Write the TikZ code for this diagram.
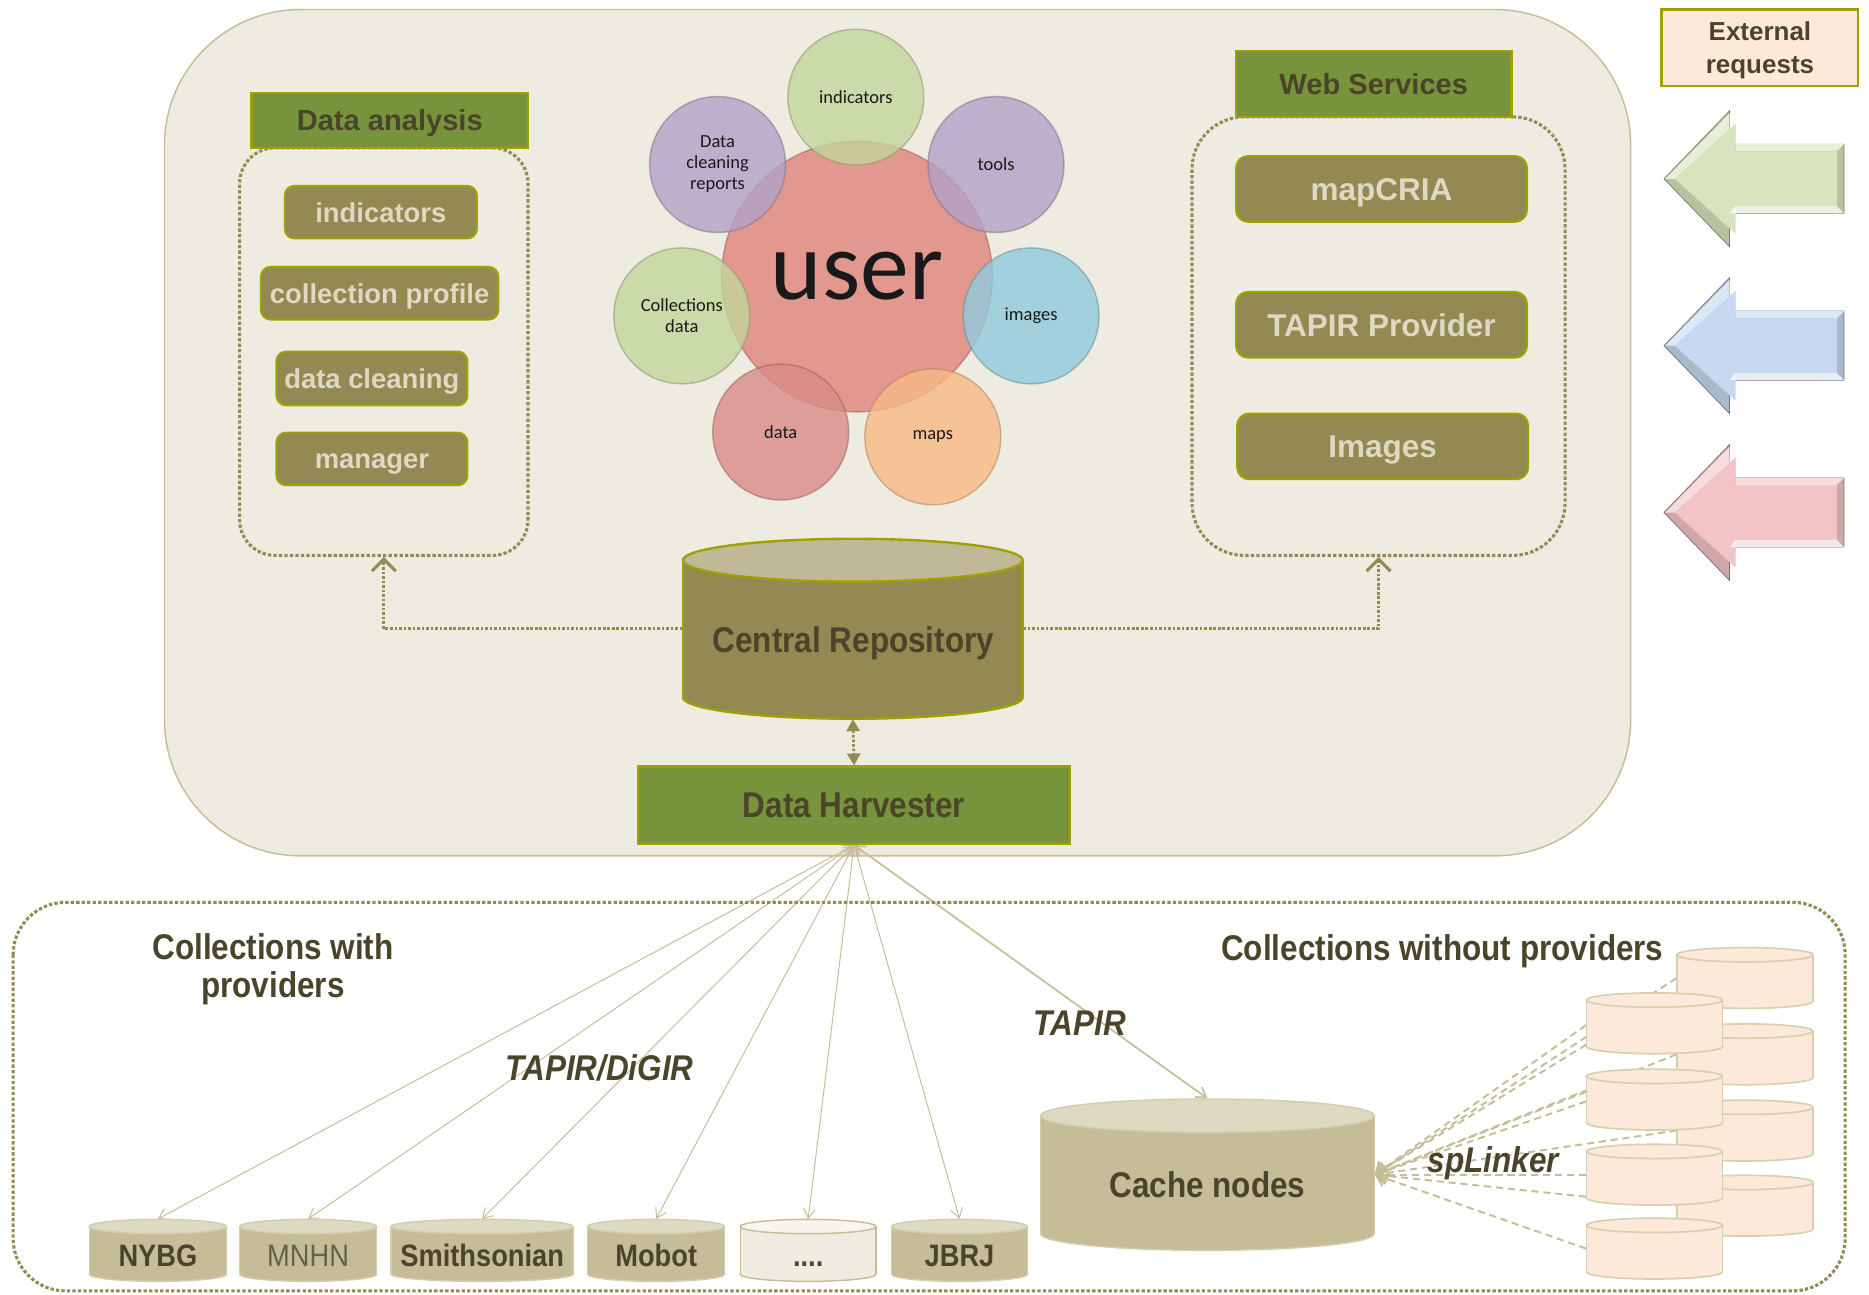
\documentclass[tikz,border=0pt]{standalone}
\usepackage{fontspec}
\setmainfont{Liberation Sans}
\newfontfamily\narrowfont{Liberation Sans}[FakeStretch=0.88]
\newfontfamily\calfont{Carlito}
\usetikzlibrary{arrows.meta,calc}
\pgfdeclarelayer{back}
\pgfdeclarelayer{lines}
\pgfsetlayers{back,lines,main}
\definecolor{bgtan}{HTML}{EEECE1}
\definecolor{mainbd}{HTML}{C4BD97}
\definecolor{hdrgreen}{HTML}{77933C}
\definecolor{olivebd}{HTML}{A0A000}
\definecolor{itemfill}{HTML}{938953}
\definecolor{itemtxt}{HTML}{DDD9C3}
\definecolor{txtdark}{HTML}{4A452A}
\definecolor{dotcol}{HTML}{948A54}
\definecolor{cylbody}{HTML}{C4BD97}
\definecolor{cyltop}{HTML}{DDD9C3}
\definecolor{cylbd}{HTML}{D3CDAE}
\definecolor{crtop}{HTML}{BFB997}
\definecolor{peach}{HTML}{FDE9D9}
\definecolor{peachbd}{HTML}{D8CFAE}
\definecolor{linecol}{HTML}{C4BD97}
\definecolor{cgreen}{HTML}{C3D69B}
\definecolor{cpurple}{HTML}{B3A2C7}
\definecolor{cblue}{HTML}{8FCBDC}
\definecolor{cred}{HTML}{D98B88}
\definecolor{corange}{HTML}{F8B985}
\definecolor{cuser}{HTML}{E0847B}
\definecolor{agreen}{HTML}{D7E4BD}
\definecolor{ablue}{HTML}{C6D9F1}
\definecolor{apink}{HTML}{F2C4C6}
\definecolor{dotsbody}{HTML}{EEECE1}
\definecolor{dotstop}{HTML}{F6F5EF}

% cylinder: xl, xr, ytop, ybottom, ry, body fill, top fill, border options
\newcommand\drawcyl[8]{%
  \pgfmathsetmacro\cylcx{(#1+#2)/2}%
  \pgfmathsetmacro\cylrx{(#2-#1)/2}%
  \pgfmathsetmacro\cylyt{#3+#5}%
  \pgfmathsetmacro\cylyb{#4-#5}%
  \path[fill=#6,draw=#8] (\cylcx,\cylyb) ellipse[x radius=\cylrx, y radius=#5];
  \path[fill=#6] (#1,\cylyt) rectangle (#2,\cylyb);
  \path[draw=#8] (#1,\cylyt) -- (#1,\cylyb) (#2,\cylyt) -- (#2,\cylyb);
  \path[fill=#7,draw=#8] (\cylcx,\cylyt) ellipse[x radius=\cylrx, y radius=#5];
}
% bottom provider cylinder: name, xl, xr, body, top, border, label style, label
\newcommand\botcyl[8]{%
  \drawcyl{#2}{#3}{1023}{1075}{6}{#4}{#5}{#6,line width=0.6pt}
  \node[holder, minimum width={(#3-#2)*0.5pt}, minimum height=26pt] (#1) at ({(#2+#3)/2},1049) {};
  \node[#7] (#1lbl) at ({(#2+#3)/2},1053) {#8};
}
% small peach cylinder: name, xl, ytop
\newcommand\pcyl[3]{%
  \drawcyl{#2}{#2+114}{#3}{#3+51}{6}{peach}{peach}{peachbd,line width=0.7pt}
  \node[holder, minimum width=57pt, minimum height=25.5pt] (#1) at ({#2+57},{#3+25.5}) {};
}
% external request arrow: centre y, colour
\newcommand\extarrow[2]{%
  \path[fill=#2!85!black, draw=#2!55!black, line width=0.3pt]
    (1396,#1) -- (1451,#1-57) -- (1451,#1-29) -- (1547,#1-29) -- (1547,#1+29)
    -- (1451,#1+29) -- (1451,#1+57) -- cycle;
  \path[fill=#2!60!white]
    (1397,#1) -- (1451,#1-55) -- (1451,#1-29) -- (1547,#1-29) -- (1541,#1-23)
    -- (1456,#1-23) -- (1456,#1-46) -- (1405,#1) -- cycle;
  \path[fill=#2]
    (1405,#1) -- (1456,#1-46) -- (1456,#1-23) -- (1541,#1-23) -- (1541,#1+23)
    -- (1456,#1+23) -- (1456,#1+46) -- cycle;
  \path[fill=white, opacity=0.75]
    (1456,#1+23) -- (1541,#1+23) -- (1547,#1+29) -- (1451,#1+29) -- cycle;
}

\tikzset{
  holder/.style={draw=none, inner sep=0pt},
  capc/.style={text height=#1, text depth=0pt},
  hdr/.style={draw=olivebd, line width=0.9pt, fill=hdrgreen, text=txtdark,
    font=\bfseries\fontsize{12.2pt}{14pt}\selectfont, inner sep=0pt, capc=8.7pt},
  itm/.style={draw=olivebd, line width=0.9pt, fill=itemfill, text=itemtxt,
    rounded corners=4pt, inner sep=0pt, font=\bfseries\fontsize{11.5pt}{13pt}\selectfont, capc=8.25pt},
  itmw/.style={itm, rounded corners=5pt, font=\bfseries\fontsize{13.2pt}{15pt}\selectfont, capc=9.45pt},
  dotbox/.style={draw=dotcol, line width=1.3pt, dash pattern=on 1.4pt off 0.9pt, inner sep=0pt},
  dotline/.style={draw=dotcol, line width=1.15pt, dash pattern=on 1.1pt off 0.8pt},
  bigtxt/.style={text=txtdark, inner sep=0pt, font=\narrowfont\bfseries\fontsize{15pt}{16pt}\selectfont},
  bigit/.style={text=txtdark, inner sep=0pt, font=\narrowfont\bfseries\itshape\fontsize{15pt}{16pt}\selectfont},
  smtxt/.style={text=txtdark, inner sep=0pt, font=\narrowfont\bfseries\fontsize{13pt}{15pt}\selectfont, capc=9.3pt},
  smreg/.style={text=txtdark!85!white, inner sep=0pt, font=\narrowfont\fontsize{13pt}{15pt}\selectfont, capc=9.3pt},
  circ/.style={circle, inner sep=0pt, minimum size=57pt, fill opacity=0.8, text opacity=1,
    draw opacity=0.55, line width=0.6pt, text=black!90,
    font=\calfont\fontsize{7.75pt}{8.8pt}\selectfont, align=center},
  harv/.style={draw=linecol, line width=0.4pt,
    {Straight Barb[length=4pt,width=5pt]}-{Straight Barb[length=4pt,width=5pt]}},
  spl/.style={draw=linecol, line width=0.8pt, dash pattern=on 3pt off 2pt,
    -{Straight Barb[length=4pt,width=7pt]}},
  upbarb/.style={-{Straight Barb[length=5pt,width=10pt,line width=1.3pt]}},
}

\begin{document}
\begin{tikzpicture}[x=0.5pt,y=-0.5pt]
\begin{pgfonlayer}{back}
  \fill[white] (0,0) rectangle (1568,1086);
  \path[fill=bgtan, draw=mainbd, line width=0.6pt, rounded corners=57pt] (138,8) rectangle (1368,718);
\end{pgfonlayer}
\useasboundingbox (0,0) rectangle (1568,1086);

% bottom collections region
\draw[dotbox, rounded corners=22pt] (11,757) rectangle (1548,1083);

% user circles
\node[circ, fill=cuser, draw=cuser!70!black, minimum size=113.5pt,
  font=\calfont\fontsize{41pt}{41pt}\selectfont] (user) at (719,232) {user};
\node[circ, fill=cgreen, draw=cgreen!70!black] (cind) at (718,81.5) {indicators};
\node[circ, fill=cpurple, draw=cpurple!70!black] (crep) at (602,138) {Data\\cleaning\\reports};
\node[circ, fill=cpurple, draw=cpurple!70!black] (ctools) at (835.6,138) {tools};
\node[circ, fill=cgreen, draw=cgreen!70!black] (ccol) at (572,265) {Collections\\data};
\node[circ, fill=cblue, draw=cblue!70!black] (cimg) at (865,265) {images};
\node[circ, fill=cred, draw=cred!70!black] (cdata) at (655,362.5) {data};
\node[circ, fill=corange, draw=corange!70!black] (cmaps) at (782.6,366.5) {maps};

% Data analysis
\node[dotbox, rounded corners=15pt, minimum width=121pt, minimum height=171pt] (dabox) at (322,295) {};
\node[hdr, minimum width=116pt, minimum height=23pt] (dahdr) at (327,101) {Data analysis};
\node[itm, minimum width=80.5pt, minimum height=22pt] (iind) at (319.5,178) {indicators};
\node[itm, minimum width=99.5pt, minimum height=22pt] (iprof) at (318.5,246) {collection profile};
\node[itm, minimum width=80pt, minimum height=22.5pt] (iclean) at (312,317.5) {data cleaning};
\node[itm, minimum width=80pt, minimum height=22pt] (iman) at (312,385) {manager};

% Web services
\node[dotbox, rounded corners=22pt, minimum width=156.5pt, minimum height=184pt] (wsbox) at (1156.5,282) {};
\node[hdr, minimum width=115.5pt, minimum height=27.5pt] (wshdr) at (1152.5,70.5) {Web Services};
\node[itmw, minimum width=122pt, minimum height=27.5pt] (wmap) at (1159,158.5) {mapCRIA};
\node[itmw, minimum width=122pt, minimum height=27.5pt] (wtapir) at (1159,272.5) {TAPIR Provider};
\node[itmw, minimum width=122pt, minimum height=27.5pt] (wimg) at (1160,374.5) {Images};

% Central repository
\drawcyl{573}{858}{452}{603}{18}{itemfill}{crtop}{olivebd,line width=1pt}
\node[holder, minimum width=142.5pt, minimum height=75.5pt] (cr) at (715.5,527.5) {};
\node[bigtxt, capc=10.75pt] (crlbl) at (716,537) {Central Repository};

% Data harvester
\node[hdr, bigtxt, capc=10.75pt, minimum width=181.5pt, minimum height=32.5pt] (dh) at (716.5,675.5) {Data Harvester};

% Cache nodes
\drawcyl{873}{1153}{922}{1049}{14}{cylbody}{cyltop}{cylbd,line width=0.6pt}
\node[holder, minimum width=140pt, minimum height=63.5pt] (cache) at (1013,985.5) {};
\node[bigtxt, capc=10.75pt] (cachelbl) at (1013,994) {Cache nodes};

% providers
\botcyl{nybg}{75}{190}{cylbody}{cyltop}{cylbd}{smtxt}{NYBG}
\botcyl{mnhn}{201}{316}{cylbody}{cyltop}{cylbd}{smreg}{MNHN}
\botcyl{smith}{328}{481}{cylbody}{cyltop}{cylbd}{smtxt}{Smithsonian}
\botcyl{mobot}{493}{608}{cylbody}{cyltop}{cylbd}{smtxt}{Mobot}
\botcyl{dots}{621}{735}{dotsbody}{dotstop}{cylbody}{smtxt}{....}
\botcyl{jbrj}{748}{862}{cylbody}{cyltop}{cylbd}{smtxt}{JBRJ}

% collections without providers
\pcyl{b1}{1407}{795}
\pcyl{b2}{1407}{859}
\pcyl{b3}{1407}{923}
\pcyl{b4}{1407}{986}
\pcyl{f1}{1331}{833}
\pcyl{f2}{1331}{897}
\pcyl{f3}{1331}{960}
\pcyl{f4}{1331}{1022}

% labels
\node[bigtxt, align=center] (lblwith) at (229,813) {Collections with\\providers};
\node[bigtxt, capc=10.75pt] (lblwithout) at (1210,795) {Collections without providers};
\node[bigit, capc=10.75pt] (lbltd) at (503,896) {TAPIR/DiGIR};
\node[bigit, capc=10.75pt] (lbltapir) at (906,858) {TAPIR};
\node[bigit, capc=10.75pt] (lblspl) at (1253,973) {spLinker};

% external requests
\node[draw=olivebd, line width=1pt, fill=peach, text=txtdark, align=center,
  font=\bfseries\fontsize{10.9pt}{14pt}\selectfont, inner sep=0pt, text depth=0pt,
  minimum width=82.5pt, minimum height=32pt] (ext) at (1476.5,40) {External\\requests};
\extarrow{150}{agreen}
\extarrow{290}{ablue}
\extarrow{430}{apink}

% connectors
\begin{pgfonlayer}{lines}
  \draw[dotline, upbarb] (cr.west) -| (dabox.south);
  \draw[dotline, upbarb] (cr.east) -| (wsbox.south);
  \draw[dotline, {Triangle[length=5pt,width=5.5pt]}-{Triangle[length=5pt,width=5.5pt]}] (cr.south) -- (dh.north);
  \foreach \t in {nybg,mnhn,smith,mobot,dots,jbrj}
    \draw[harv] (dh.south) -- (\t.north);
  \draw[harv, line width=0.7pt] (dh.south) -- (cache.north);
  \draw[spl] (b1.west) -- (cache.east);
  \draw[spl] ($(f1.west)+(0,1.5)$) -- (cache.east);
  \draw[spl] ($(f1.west)+(0,18)$) -- (cache.east);
  \draw[spl] (b2.west) -- (cache.east);
  \draw[spl] ($(f2.west)+(0,-6.5)$) -- (cache.east);
  \draw[spl] ($(f2.west)+(0,1.5)$) -- (cache.east);
  \draw[spl] (b3.west) -- (cache.east);
  \draw[spl] (f3.west) -- (cache.east);
  \draw[spl] ($(f3.west)+(0,18.5)$) -- (cache.east);
  \draw[spl] (f4.west) -- (cache.east);
\end{pgfonlayer}
\end{tikzpicture}
\end{document}
